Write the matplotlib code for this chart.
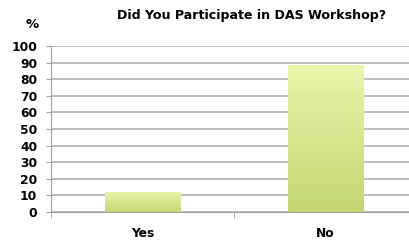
import numpy as np
import matplotlib
matplotlib.use('Agg')
import matplotlib.pyplot as plt
from matplotlib.colors import LinearSegmentedColormap

categories = ['Yes', 'No']
values = [12, 88]
y_ticks = [0, 10, 20, 30, 40, 50, 60, 70, 80, 90, 100]

plt.rcParams['font.family'] = ['DejaVu Sans']

fig = plt.figure(figsize=(4.09, 2.46), dpi=100)
ax = fig.add_axes([0.125, 0.138, 0.895, 0.675])

x = np.arange(len(categories))
bar_w = 0.41
bars = ax.bar(x, values, width=bar_w, color='none', zorder=3)

# gradient fill for bars
cmap = LinearSegmentedColormap.from_list('g', ['#c3d672', '#e8f6ab'])
grad = np.linspace(0, 1, 100).reshape(-1, 1)
for b in bars:
    x0, y0 = b.get_x(), b.get_y()
    ax.imshow(grad, cmap=cmap, aspect='auto', origin='lower',
              extent=[x0, x0 + b.get_width(), y0, y0 + b.get_height()], zorder=3)

ax.set_xlim(-0.5, 1.5)
ax.set_ylim(0, 100)
ax.set_yticks(y_ticks)
ax.set_yticklabels([str(t) for t in y_ticks], fontsize=8.8, fontweight='bold')
ax.set_xticks(x)
ax.set_xticklabels(categories, fontsize=8.8, fontweight='bold')
ax.tick_params(axis='x', length=0, pad=11)
ax.tick_params(axis='y', length=3.6, color='#a0a0a0', pad=6.5)
ax.set_xticks([-0.5, 0.5, 1.5], minor=True)
ax.tick_params(axis='x', which='minor', length=4, color='#a0a0a0')

ax.yaxis.grid(True, color='#b0b0b0', linewidth=1.2, zorder=0)
ax.set_axisbelow(True)
for s in ['top', 'right']:
    ax.spines[s].set_visible(False)
ax.spines['left'].set_color('#a0a0a0')
ax.spines['bottom'].set_color('#a0a0a0')

fig.text(0.614, 0.939, 'Did You Participate in DAS Workshop?', ha='center', va='center',
         fontsize=9.1, fontweight='bold')
fig.text(0.078, 0.902, '%', ha='center', va='center', fontsize=9.5, fontweight='bold')

fig.savefig('out.png', dpi=100)
